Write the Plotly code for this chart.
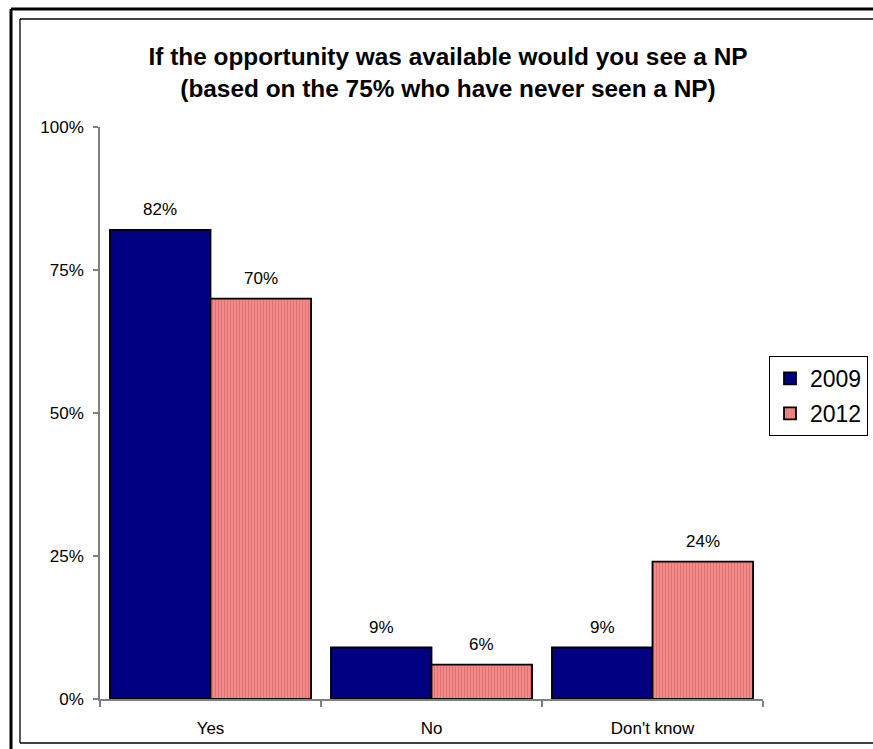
import plotly.graph_objects as go

categories = ["Yes", "No", "Don't know"]
series_names = ["2009", "2012"]
values_2009 = [0.82, 0.09, 0.09]
values_2012 = [0.70, 0.06, 0.24]
y_tickvals = [0, 0.25, 0.5, 0.75, 1.0]
y_ticktext = ["0%", "25%", "50%", "75%", "100%"]
title_lines = ["If the opportunity was available would you see a NP",
               "(based on the 75% who have never seen a NP)"]

W, H = 873, 749
PX0, PX1, PY0, PY1 = 100, 763, 127, 699  # plot area in pixels
ML, MT = PX0, PY0
MR, MB = W - PX1, H - PY1
PW, PH = PX1 - PX0, PY1 - PY0
FONT = "Arial, Liberation Sans, sans-serif"


def px_x(px):
    return (px - PX0) / PW


def px_y(py):
    return (PY1 - py) / PH


fig = go.Figure()
fig.add_trace(go.Bar(
    name=series_names[0], x=categories, y=values_2009, legendgroup="a",
    marker=dict(color="#000080", line=dict(color="#000000", width=1.8)),
))
fig.add_trace(go.Bar(
    name=series_names[1], x=categories, y=values_2012, legendgroup="b",
    marker=dict(color="#F08080", line=dict(color="#000000", width=1.8),
                pattern=dict(shape="|", fgcolor="#E27272", bgcolor="#F38A8A",
                             size=3, solidity=0.35, fillmode="replace")),
))

# data labels
bar_px = PW / len(categories) * (1 - 0.09) / 2
for vals, sign in ((values_2009, -1), (values_2012, 1)):
    for c, v in zip(categories, vals):
        fig.add_annotation(x=c, y=v, text=f"{round(v * 100)}%", showarrow=False,
                           xref="x", yref="y", xshift=sign * bar_px / 2,
                           yanchor="bottom", yshift=9,
                           font=dict(family=FONT, size=17, color="#000000"))

shapes = [
    # outer thick frame (left & top)
    dict(type="line", xref="paper", yref="paper", x0=px_x(11), x1=px_x(900),
         y0=px_y(9), y1=px_y(9), line=dict(color="#000000", width=3)),
    dict(type="line", xref="paper", yref="paper", x0=px_x(11), x1=px_x(11),
         y0=px_y(9), y1=px_y(770), line=dict(color="#000000", width=3)),
    # inner thin frame (left, top, bottom)
    dict(type="line", xref="paper", yref="paper", x0=px_x(20), x1=px_x(900),
         y0=px_y(19), y1=px_y(19), line=dict(color="#000000", width=1.3)),
    dict(type="line", xref="paper", yref="paper", x0=px_x(20), x1=px_x(20),
         y0=px_y(19), y1=px_y(743), line=dict(color="#000000", width=1.3)),
    dict(type="line", xref="paper", yref="paper", x0=px_x(20), x1=px_x(900),
         y0=px_y(743), y1=px_y(743), line=dict(color="#000000", width=1.3)),
]

fig.update_layout(
    width=W, height=H, autosize=False,
    margin=dict(l=ML, r=MR, t=MT, b=MB, autoexpand=False),
    paper_bgcolor="#FFFFFF", plot_bgcolor="#FFFFFF",
    font=dict(family=FONT, size=17, color="#000000"),
    title=dict(text="<b>" + title_lines[0] + "<br>" + title_lines[1] + "</b>",
               x=448 / W, xref="container", xanchor="center",
               y=(H - 65) / H, yref="container", yanchor="top",
               font=dict(family=FONT, size=24.4, color="#000000")),
    barmode="group", bargap=0.09, bargroupgap=0,
    showlegend=True,
    legend=dict(x=px_x(769), y=px_y(356), xanchor="left", yanchor="top",
                bgcolor="#FFFFFF", bordercolor="#000000", borderwidth=1,
                font=dict(family=FONT, size=23, color="#000000"),
                itemwidth=30, tracegroupgap=2, traceorder="grouped"),
    shapes=shapes,
)
fig.update_xaxes(
    showline=True, linecolor="#808080", linewidth=1.5,
    ticks="outside", ticklen=6, tickcolor="#808080", tickwidth=1.5,
    tickson="boundaries", showgrid=False, zeroline=False,
    ticklabelstandoff=13,
    tickfont=dict(family=FONT, size=17, color="#000000"),
)
fig.update_yaxes(
    range=[0, 1], tickvals=y_tickvals, ticktext=y_ticktext,
    showline=True, linecolor="#808080", linewidth=1.5,
    ticks="outside", ticklen=5, tickcolor="#808080", tickwidth=1.5,
    showgrid=False, zeroline=False, ticklabelstandoff=6,
    tickfont=dict(family=FONT, size=17, color="#000000"),
)

# the browser's default 8px body margin would push the figure off the window
fig.write_html("out.html", config={"displayModeBar": False},
               post_script="document.body.style.margin='0px';"
                           "document.documentElement.style.overflow='hidden';")
